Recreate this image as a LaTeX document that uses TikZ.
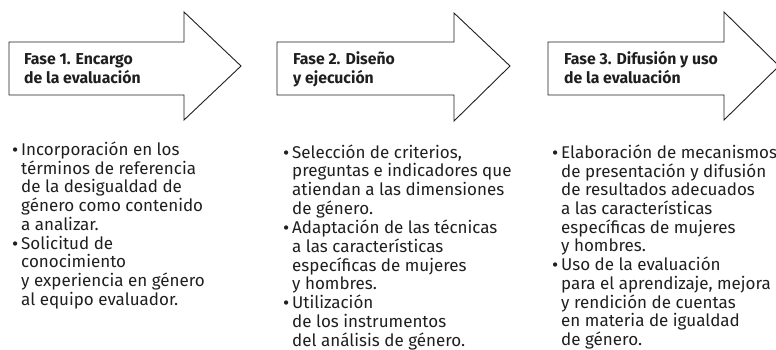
\documentclass[tikz,border=0pt]{standalone}
\usepackage{fontspec}
\setmainfont{Fira Sans}
\definecolor{ink}{gray}{0.12}
\tikzset{
  phase/.style={draw=ink, line width=0.9pt, line join=miter, fill=white},
  head/.style={anchor=base west, inner sep=0pt, text=ink, font=\fontsize{15.8}{18}\selectfont\bfseries},
  body/.style={anchor=base west, inner sep=0pt, text=ink, font=\fontsize{17}{18}\selectfont}
}
\newcommand{\bul}{\llap{\raisebox{-1.2pt}{\fontsize{19}{19}\selectfont •}\hspace{3pt}}}
\begin{document}
\begin{tikzpicture}[x=1pt,y=-1pt]
\useasboundingbox (0,0) rectangle (776,350);
\clip (0,0) rectangle (776,350);
% arrows
\draw[phase] (9,42) -- (184,42) -- (184,12) -- (241,66) -- (184,120) -- (184,95) -- (9,95) -- cycle;
\draw[phase] (277,42) -- (454,42) -- (454,13) -- (510,66) -- (454,121) -- (454,95) -- (277,95) -- cycle;
\draw[phase] (548,42) -- (724,42) -- (724,12) -- (779,66) -- (724,120) -- (724,95) -- (548,95) -- cycle;
% headings
\node[head] (h1) at (24,65) {\begin{tabular}[t]{@{}l@{}}Fase 1. Encargo\\de la evaluación\end{tabular}};
\node[head] (h2) at (293,65) {\begin{tabular}[t]{@{}l@{}}Fase 2. Diseño\\y ejecución\end{tabular}};
\node[head] (h3) at (564,65) {\begin{tabular}[t]{@{}l@{}}Fase 3. Difusión y uso\\de la evaluación\end{tabular}};
% bodies
\node[body] (b1) at (21,155) {\begin{tabular}[t]{@{}l@{}}
\bul Incorporación en los\\
términos de referencia\\
de la desigualdad de\\
género como contenido\\
a analizar.\\
\bul Solicitud de\\
conocimiento\\
y experiencia en género\\
al equipo evaluador.
\end{tabular}};
\node[body] (b2) at (292,158) {\begin{tabular}[t]{@{}l@{}}
\bul Selección de criterios,\\
preguntas e indicadores que\\
atiendan a las dimensiones\\
de género.\\
\bul Adaptación de las técnicas\\
a las características\\
específicas de mujeres\\
y hombres.\\
\bul Utilización\\
de los instrumentos\\
del análisis de género.
\end{tabular}};
\node[body] (b3) at (561,158) {\begin{tabular}[t]{@{}l@{}}
\bul Elaboración de mecanismos\\
de presentación y difusión\\
de resultados adecuados\\
a las características\\
específicas de mujeres\\
y hombres.\\
\bul Uso de la evaluación\\
para el aprendizaje, mejora\\
y rendición de cuentas\\
en materia de igualdad\\
de género.
\end{tabular}};
\end{tikzpicture}
\end{document}
